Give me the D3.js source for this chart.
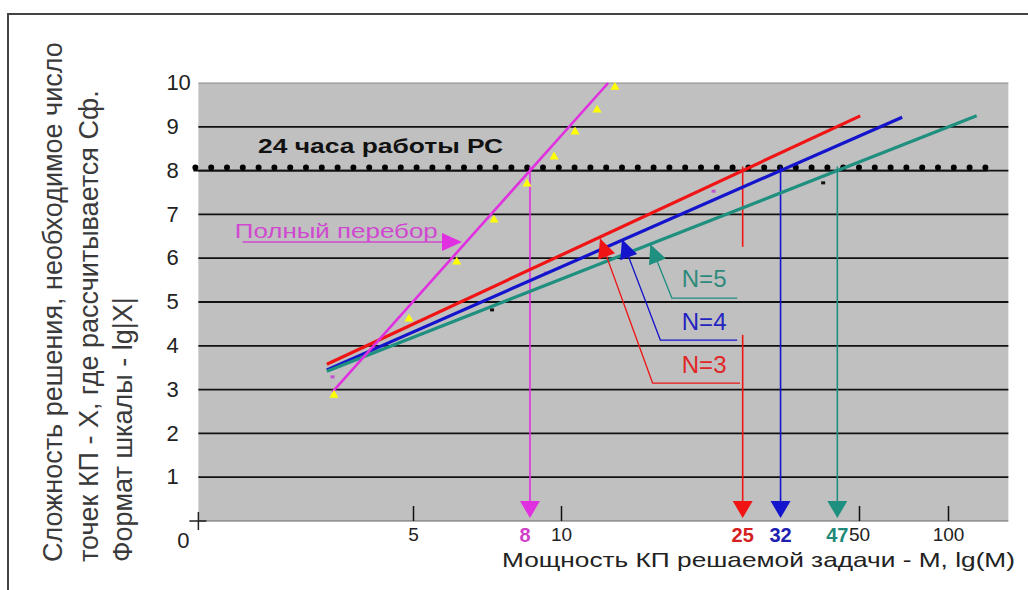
<!DOCTYPE html>
<html><head><meta charset="utf-8">
<script src="https://cdn.jsdelivr.net/npm/d3@7"></script>
<style>body{margin:0;background:#fff}svg{display:block;font-family:"Liberation Sans",Arial,sans-serif}</style>
</head><body><svg id="c" width="1028" height="590"></svg>
<script>
// ---------- data ----------
const yTicks = [1,2,3,4,5,6,7,8,9,10];
const xTicks = [5,10,50,100];
const plotM = [1.83, 160];              // x extent of plot (M)
const plotLgX = [0, 10];                // y extent (lg|X|)
const thresholdLgX = 8;                 // 24 hours of PC work
const thresholdEndM = 136;
const thresholdLabel = "24 часа работы РС";

// full enumeration ("Полный перебор")
const bruteFitM = [3.43, 12.9];
const bruteFitLgX = [2.95, 10.0];
const bruteSampleM = [3.42, 4.86, 6.08, 7.24, 8.45, 9.59, 10.67, 12.02, 13.24];
const bruteSampleLgX = [2.92, 4.66, 5.96, 6.92, 7.74, 8.36, 8.93, 9.43, 9.95];
const bruteLabel = "Полный перебор";

// fitted lines for N = 3,4,5
const seriesNames = ["N=3","N=4","N=5"];
const n3M = [3.34, 50.5], n3LgX = [3.58, 9.25];
const n4M = [3.34, 70.0], n4LgX = [3.45, 9.22];
const n5M = [3.34, 125.0], n5LgX = [3.42, 9.25];

// stray sample points
const blackPtsM = [7.24, 41.2], blackPtsLgX = [4.82, 7.72];
const pinkPtsM = [3.43, 9.31, 22.8], pinkPtsLgX = [3.29, 5.66, 7.53];

// readout labels where lines cross the 24h threshold
const readoutLabels = ["8","25","32","47"];

// callouts for N labels: [tip, elbow, end] in (M, lgX), label anchor
const calloutM = [[12.35,16.4,26.3],[13.9,17.1,25.9],[16.2,18.2,25.9]];
const calloutLgX = [[6.45,3.15,3.15],[6.43,4.13,4.13],[6.32,5.09,5.09]];
const calloutLabelM = [19.2,19.2,19.2];
const calloutLabelLgX = [3.38,4.36,5.34];

const yTitleLines = ["Сложность решения, необходимое число","точек КП - X, где рассчитывается Сф.","Формат шкалы - lg|X|"];
const xTitle = "Мощность КП решаемой задачи - М, lg(М)";

// ---------- scales ----------
const x = d3.scaleLog().domain(xTicks).range([413,561,859,948]);
const y = d3.scaleLinear().domain(plotLgX).range([521,83]);

const C = {red:"#f01414", blue:"#1414cc", teal:"#1f8f80", mag:"#e030e0", magText:"#d048d0"};
const sColors = [C.red, C.blue, C.teal];
const sText = ["#e02626","#2424c0","#2e8b7b"];
const readoutColors = ["#d040c8","#d42020","#2020b0","#208878"];

const svg = d3.select("#c");
// outer frame
svg.append("path").attr("d","M1028,14 H8 V590").attr("fill","none").attr("stroke","#444").attr("stroke-width",2);

const X0 = x(plotM[0]), X1 = x(plotM[1]);
// plot area
svg.append("rect").attr("x",X0).attr("y",y(10)).attr("width",X1-X0).attr("height",y(0)-y(10)).attr("fill","#c0c0c0");
svg.append("line").attr("x1",X0).attr("x2",X1).attr("y1",y(10)).attr("y2",y(10)).attr("stroke","#888").attr("stroke-width",1);
svg.append("line").attr("x1",X0).attr("x2",X1).attr("y1",y(0)).attr("y2",y(0)).attr("stroke","#666").attr("stroke-width",1.2);

// gridlines
svg.append("g").selectAll("line").data(yTicks.filter(d=>d<10)).join("line")
  .attr("x1",X0).attr("x2",X1).attr("y1",d=>y(d)).attr("y2",d=>y(d))
  .attr("stroke","#111").attr("stroke-width",1.8);

// y axis labels
const ya = svg.append("g").attr("transform",`translate(${X0},0)`)
  .call(d3.axisLeft(y).tickValues(yTicks).tickSize(0).tickFormat(d3.format("d")));
ya.select(".domain").remove();
ya.selectAll("text").attr("x",-32).attr("text-anchor","start").attr("dy","0.3em")
  .attr("font-size",22).attr("font-family","Liberation Sans, Arial, sans-serif").attr("fill","#222");

// x axis
const xa = svg.append("g").attr("transform",`translate(0,${y(0)})`)
  .call(d3.axisBottom(x).tickValues(xTicks).tickSizeInner(-15).tickSizeOuter(0).tickPadding(7).tickFormat(d3.format("d")));
xa.select(".domain").remove();
xa.selectAll(".tick line").attr("stroke","#111").attr("stroke-width",1.5);
xa.selectAll("text").attr("font-size",19).attr("font-family","Liberation Sans, Arial, sans-serif").attr("fill","#222");

// origin cross + 0
svg.append("path").attr("d",`M${X0-9},${y(0)} H${X0+8} M${X0},${y(0)-9} V${y(0)+9}`).attr("stroke","#222").attr("stroke-width",1.5);
svg.append("text").attr("x",X0-15).attr("y",y(0)+27).attr("text-anchor","middle").attr("font-size",22).attr("fill","#222").text("0");

// threshold: gridline and dotted line
const thY = y(thresholdLgX);
svg.append("line").attr("x1",X0-5).attr("x2",x(thresholdEndM)).attr("y1",thY).attr("y2",thY)
  .attr("stroke","#111").attr("stroke-width",1.8);
svg.append("line").attr("x1",X0-3).attr("x2",x(thresholdEndM)).attr("y1",thY-3).attr("y2",thY-3)
  .attr("stroke","#000").attr("stroke-width",6).attr("stroke-linecap","round").attr("stroke-dasharray","0 15.8");
svg.append("text").attr("x",x(2.42)).attr("y",y(8.40)).attr("font-size",21).attr("font-weight","bold")
  .attr("textLength",245).attr("lengthAdjust","spacingAndGlyphs").attr("fill","#111").text(thresholdLabel);

// readout drop lines
const lines = [
  {M:bruteFitM, L:bruteFitLgX, color:C.mag, w:2.6},
  {M:n3M, L:n3LgX, color:C.red, w:3.2},
  {M:n4M, L:n4LgX, color:C.blue, w:3.2},
  {M:n5M, L:n5LgX, color:C.teal, w:3.2}
];
const crossX = lines.map(s=>{
  const x0=x(s.M[0]), y0=y(s.L[0]), x1=x(s.M[1]), y1=y(s.L[1]);
  return x0 + (thY-y0)*(x1-x0)/(y1-y0);
});
const dropColors = [C.mag, C.red, C.blue, C.teal];
const arrowTip = y(0)-3, arrowBase = y(0)-20;
crossX.forEach((cx,i)=>{
  const g = svg.append("g");
  if(i===1){
    g.append("line").attr("x1",cx).attr("x2",cx).attr("y1",thY-4).attr("y2",y(6.26)).attr("stroke",dropColors[i]).attr("stroke-width",1.6);
    g.append("line").attr("x1",cx).attr("x2",cx).attr("y1",y(4.25)).attr("y2",arrowBase).attr("stroke",dropColors[i]).attr("stroke-width",1.6);
  } else {
    g.append("line").attr("x1",cx).attr("x2",cx).attr("y1",thY-4).attr("y2",arrowBase).attr("stroke",dropColors[i]).attr("stroke-width",1.6);
  }
  g.append("path").attr("d",`M${cx-10},${arrowBase} L${cx+10},${arrowBase} L${cx},${arrowTip} Z`).attr("fill",dropColors[i]);
  svg.append("text").attr("x",cx-(i===0?5:0)).attr("y",y(0)+21).attr("text-anchor","middle")
    .attr("font-size",20).attr("font-weight","bold").attr("fill",readoutColors[i]).text(readoutLabels[i]);
});

// stray points
svg.append("g").selectAll("rect").data(blackPtsM.map((m,i)=>[m,blackPtsLgX[i]])).join("rect")
  .attr("x",d=>x(d[0])-2).attr("y",d=>y(d[1])-1.5).attr("width",4).attr("height",3).attr("fill","#111");
svg.append("g").selectAll("rect").data(pinkPtsM.map((m,i)=>[m,pinkPtsLgX[i]])).join("rect")
  .attr("x",d=>x(d[0])-2).attr("y",d=>y(d[1])-1.5).attr("width",4).attr("height",3).attr("fill","#c050d0");

// fitted lines
const lineGen = d3.line().x(d=>x(d[0])).y(d=>y(d[1]));
lines.slice(1).concat([lines[0]]).forEach(s=>{
  svg.append("path").attr("d",lineGen(s.M.map((m,i)=>[m,s.L[i]])))
    .attr("fill","none").attr("stroke",s.color).attr("stroke-width",s.w);
});

// brute force samples (yellow triangles)
svg.append("g").selectAll("path").data(bruteSampleM.map((m,i)=>[m,bruteSampleLgX[i]])).join("path")
  .attr("transform",d=>`translate(${x(d[0])+2},${y(d[1])+2})`)
  .attr("d",d3.symbol(d3.symbolTriangle,36)).attr("fill","#ffff00");

// brute label with arrow
const bl = svg.append("g");
bl.append("text").attr("x",x(2.17)).attr("y",y(6.46)).attr("font-size",21).attr("fill",C.magText)
  .attr("textLength",203).attr("lengthAdjust","spacingAndGlyphs").text(bruteLabel);
bl.append("line").attr("x1",x(2.25)).attr("x2",x(5.75)).attr("y1",y(6.37)).attr("y2",y(6.37)).attr("stroke",C.magText).attr("stroke-width",1.5);
{
  const tx = x(6.29), ty = y(6.37);
  bl.append("path").attr("d",`M${tx-20},${ty-9} L${tx},${ty} L${tx-20},${ty+9} Z`).attr("fill",C.mag);
}

// callouts
calloutM.forEach((ms,i)=>{
  const pts = ms.map((m,j)=>[x(m), y(calloutLgX[i][j])]);
  svg.append("path").attr("d",d3.line()(pts)).attr("fill","none").attr("stroke",sColors[i]).attr("stroke-width",1.3);
  const [tx,ty] = pts[0], [ex,ey] = pts[1];
  const ang = Math.atan2(ey-ty, ex-tx);
  const L = 19, W = 9;
  const bx = tx + L*Math.cos(ang), by = ty + L*Math.sin(ang);
  const px = -Math.sin(ang)*W, py = Math.cos(ang)*W;
  svg.append("path").attr("d",`M${tx},${ty} L${bx+px},${by+py} L${bx-px},${by-py} Z`).attr("fill",sColors[i]);
  svg.append("text").attr("x",x(calloutLabelM[i])).attr("y",y(calloutLabelLgX[i])).attr("font-size",24)
    .attr("fill",sText[i]).text(seriesNames[i]);
});

// titles
const yt = svg.append("g").attr("transform","rotate(-90)");
yTitleLines.forEach((t,i)=>{
  yt.append("text").attr("x",-562).attr("y",[62,98,132][i]).attr("font-size",27).attr("fill","#3a3a3a").text(t);
});
svg.append("text").attr("x",502).attr("y",567).attr("font-size",21).attr("fill","#222")
  .attr("textLength",513).attr("lengthAdjust","spacingAndGlyphs").text(xTitle);
</script></body></html>
